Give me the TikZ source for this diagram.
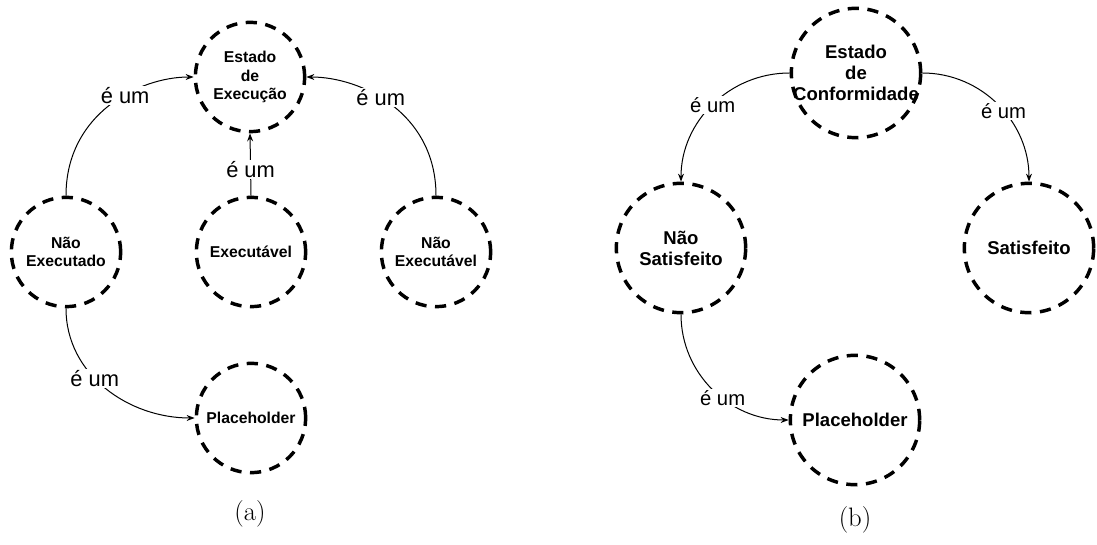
\documentclass[tikz,border=0pt]{standalone}
\usepackage{fontspec}
\newfontfamily\arial{Liberation Sans}
\usetikzlibrary{arrows.meta}
\begin{document}
\begin{tikzpicture}[x=0.75pt,y=0.75pt,
 conceito/.style={circle,draw,line width=2.6pt,dash pattern=on 8.4pt off 6.4pt,align=center},
 conceitoA/.style={conceito,minimum size=82pt,inner sep=0pt,font=\arial\bfseries\fontsize{11.8}{13.9}\selectfont},
 conceitoB/.style={conceito,minimum size=97pt,inner sep=-4pt,font=\arial\bfseries\fontsize{13.9}{15.8}\selectfont},
 eum/.style={fill=white,inner sep=1pt,font=\arial\fontsize{16.4}{16.4}\selectfont},
 eumB/.style={eum,font=\arial\fontsize{15.2}{15.2}\selectfont},
 legenda/.style={font=\fontsize{20}{22}\selectfont},
 seta/.style={line width=0.75pt,-{Stealth[length=6pt,width=4.5pt,inset=2pt]}}]
 \useasboundingbox (0,0) rectangle (1097,-545);
 % (a)
 \node[conceitoA] (execucao) at (250,-77) {Estado\\de\\Execução};
 \node[conceitoA] (naoexecutado) at (66,-252) {Não\\Executado};
 \node[conceitoA] (executavel) at (251,-252) {Executável};
 \node[conceitoA] (naoexecutavel) at (436,-252) {Não\\Executável};
 \node[conceitoA] (placeholderA) at (251,-418) {Placeholder};
 \node[legenda] (legendaA) at (250,-514) {(a)};
 \draw[seta] (naoexecutado.north) to[out=90,in=180,out looseness=1.2,in looseness=0.8] node[eum,pos=0.6] {é um} (execucao.west);
 \draw[seta] (executavel.north) -- node[eum,pos=0.42] {é um} (execucao.south);
 \draw[seta] (naoexecutavel.north) to[out=90,in=0,out looseness=1.2,in looseness=0.8] node[eum,pos=0.57] {é um} (execucao.east);
 \draw[seta] (naoexecutado.south) to[out=-90,in=180] node[eum,pos=0.42] {é um} (placeholderA.west);
 % (b)
 \node[conceitoB] (conformidade) at (856,-73) {Estado\\de\\Conformidade};
 \node[conceitoB] (naosatisfeito) at (681,-248) {Não\\Satisfeito};
 \node[conceitoB] (satisfeito) at (1029,-248) {Satisfeito};
 \node[conceitoB] (placeholderB) at (855,-420) {Placeholder};
 \node[legenda] (legendaB) at (855,-520) {(b)};
 \draw[seta] (conformidade.west) to[out=180,in=90] node[eumB] {é um} (naosatisfeito.north);
 \draw[seta] (conformidade.east) to[out=0,in=90] node[eumB,pos=0.55] {é um} (satisfeito.north);
 \draw[seta] (naosatisfeito.south) to[out=-90,in=180] node[eumB,pos=0.58] {é um} (placeholderB.west);
\end{tikzpicture}
\end{document}
